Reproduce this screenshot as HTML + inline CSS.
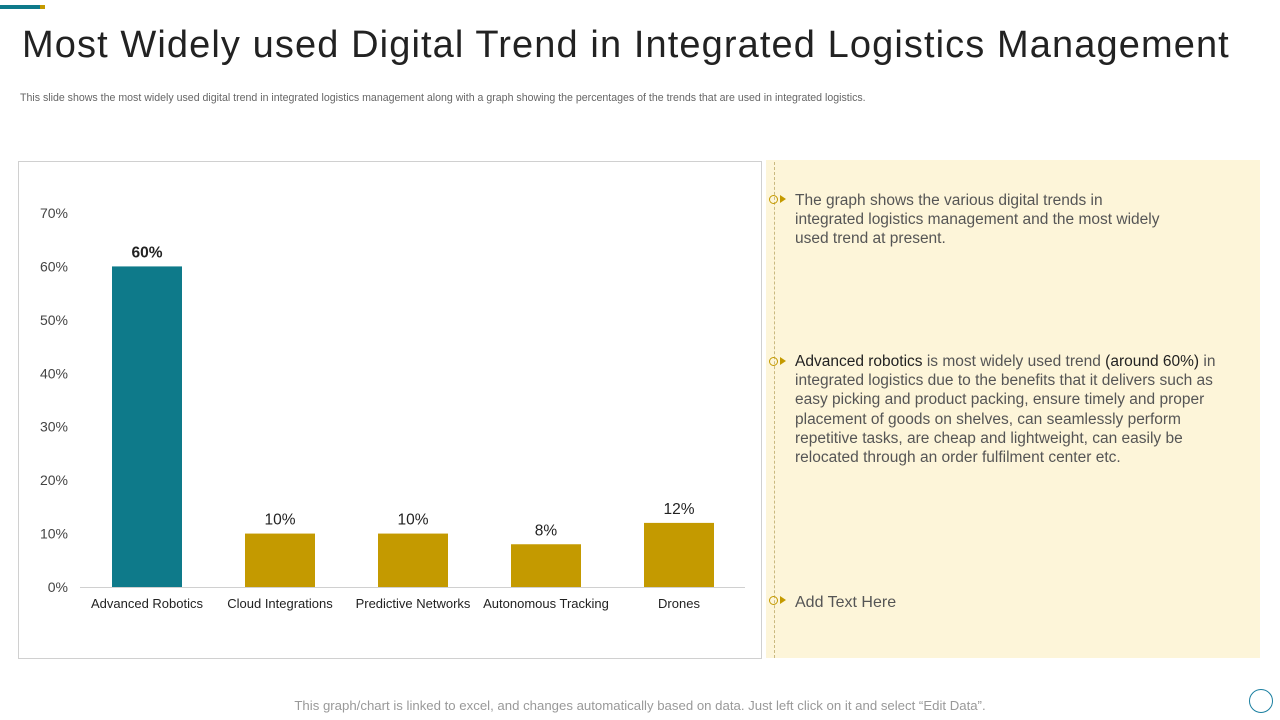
<!DOCTYPE html>
<html><head><meta charset="utf-8"><style>
body{margin:0;width:1280px;height:720px;background:#fff;font-family:"Liberation Sans",sans-serif;position:relative;overflow:hidden}
.abs{position:absolute}
.title{left:22px;top:24px;font-size:38px;color:#222;letter-spacing:1.1px;white-space:nowrap}
.sub{left:20px;top:92px;font-size:10.6px;color:#666;white-space:nowrap}
.panel{left:766px;top:160px;width:494px;height:498px;background:#fdf5d9}
.dash{left:774px;top:162px;height:496px;border-left:1px dashed #c9b980}
.item{left:795px;font-size:15.5px;color:#555;line-height:19.2px;width:440px}
.item b{font-weight:normal;color:#222}
.bul{left:769px;width:9px;height:9px;border:1.5px solid #c49a00;border-radius:50%;box-sizing:border-box}
.tri{left:780px;width:0;height:0;border-top:4px solid transparent;border-bottom:4px solid transparent;border-left:6px solid #c49a00}
.foot{left:0;width:1280px;top:698px;text-align:center;font-size:13.2px;color:#999}
</style></head><body>
<div class="abs" style="left:0;top:5px;width:40px;height:4px;background:#0e7a8a"></div>
<div class="abs" style="left:40px;top:5px;width:5px;height:4px;background:#c49a00"></div>
<div class="abs title">Most Widely used Digital Trend in Integrated Logistics Management</div>
<div class="abs sub">This slide shows the most widely used digital trend in integrated logistics management along with a graph showing the percentages of the trends that are used in integrated logistics.</div>
<svg class="abs" style="left:0;top:0" width="1280" height="720">
<rect x="18.5" y="161.5" width="743" height="497" fill="#fff" stroke="#d0d0d0"/>
<g id="g"></g>
</svg>
<div class="abs panel"></div>
<div class="abs dash"></div>
<div class="abs bul" style="top:195px"></div><div class="abs tri" style="top:195px"></div>
<div class="abs item" style="top:191px">The graph shows the various digital trends in<br>integrated logistics management and the most widely<br>used trend at present.</div>
<div class="abs bul" style="top:357px"></div><div class="abs tri" style="top:357px"></div>
<div class="abs item" style="top:352px"><b>Advanced robotics</b> is most widely used trend <b>(around 60%)</b> in integrated logistics due to the benefits that it delivers such as easy picking and product packing, ensure timely and proper placement of goods on shelves, can seamlessly perform repetitive tasks, are cheap and lightweight, can easily be relocated through an order fulfilment center etc.</div>
<div class="abs bul" style="top:596px"></div><div class="abs tri" style="top:596px"></div>
<div class="abs item" style="top:593px;font-size:16px">Add Text Here</div>
<div class="abs foot">This graph/chart is linked to excel, and changes automatically based on data. Just left click on it and select “Edit Data”.</div>
<div class="abs" style="left:1249px;top:689px;width:24px;height:24px;border:1px solid #1a7fa0;border-radius:50%;box-sizing:border-box"></div>
<script>
const categories=["Advanced Robotics","Cloud Integrations","Predictive Networks","Autonomous Tracking","Drones"];
const values=[60,10,10,8,12];
const ticks=[0,10,20,30,40,50,60,70];
const NS="http://www.w3.org/2000/svg",g=document.getElementById('g');
const y=v=>587-v*5.343, x=i=>147+i*133;
function mk(t,a){const e=document.createElementNS(NS,t);for(const k in a)e.setAttribute(k,a[k]);g.appendChild(e);return e;}
ticks.forEach(t=>{const e=mk('text',{x:68,y:y(t)+5,'text-anchor':'end','font-size':14,fill:'#444'});e.textContent=t+'%';

});
const ax=mk('line',{x1:80,x2:745,y1:587.5,y2:587.5,stroke:'#d0d0d0'});


values.forEach((v,i)=>{
const r=mk('rect',{x:x(i)-35,y:y(v),width:70,height:587-y(v),fill:i==0?'#0e7a8a':'#c49a00'});


const l=mk('text',{x:x(i),y:y(v)-9,'text-anchor':'middle','font-size':15.5,fill:'#222','font-weight':i==0?'bold':'normal'});l.textContent=v+'%';


const c=mk('text',{x:x(i),y:608,'text-anchor':'middle','font-size':13,fill:'#222'});c.textContent=categories[i];


});
</script>
</body></html>
